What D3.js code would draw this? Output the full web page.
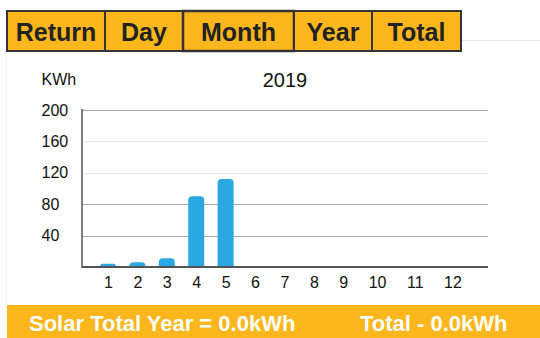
<!DOCTYPE html>
<html>
<head>
<meta charset="utf-8">
<script src="https://cdn.jsdelivr.net/npm/d3@7"></script>
<style>
  html, body { margin: 0; padding: 0; background: #fff; }
  svg { display: block; font-family: "Liberation Sans", Arial, Helvetica, sans-serif; }
</style>
</head>
<body>
<svg id="chart" width="540" height="338"></svg>
<script>
// Tab labels across the top
const tabs = ["Return", "Day", "Month", "Year", "Total"];
const activeTab = "Month";

// Monthly generation for the year
const title = "2019";
const unit = "KWh";
const months = ["1", "2", "3", "4", "5", "6", "7", "8", "9", "10", "11", "12"];
const energy = [4, 6, 11, 90, 112, 0, 0, 0, 0, 0, 0, 0];
const yTicks = [40, 80, 120, 160, 200];
const faintTicks = [120, 160];

// Footer summary
const footerLeft = "Solar Total Year = 0.0kWh";
const footerRight = "Total - 0.0kWh";

const orange = "#FDB61C";
const blue = "#2AA8E1";

const svg = d3.select("#chart");

// ---- tab bar ----
const tabEdges = [7, 105, 183, 294, 372, 461];
const tabTop = 11, tabBottom = 51;
svg.append("line")
  .attr("x1", 461).attr("x2", 540).attr("y1", 40.5).attr("y2", 40.5)
  .attr("stroke", "#e9e9e9").attr("stroke-width", 1);
svg.append("line")
  .attr("x1", 6.5).attr("x2", 6.5).attr("y1", 52).attr("y2", 305)
  .attr("stroke", "#f0f0f0").attr("stroke-width", 1);

const tabG = svg.append("g").selectAll("g").data(tabs).join("g");
tabG.append("rect")
  .attr("x", (d, i) => tabEdges[i])
  .attr("y", tabTop)
  .attr("width", (d, i) => tabEdges[i + 1] - tabEdges[i])
  .attr("height", tabBottom - tabTop)
  .attr("fill", orange)
  .attr("stroke", "#333")
  .attr("stroke-width", d => d === activeTab ? 2.5 : 2);
tabG.append("text")
  .attr("x", (d, i) => (tabEdges[i] + tabEdges[i + 1]) / 2)
  .attr("y", 41)
  .attr("text-anchor", "middle")
  .attr("font-size", 25)
  .attr("font-weight", "bold")
  .attr("fill", "#222")
  .text(d => d);

// ---- chart ----
const x0 = 82, x1 = 488;
const y = d3.scaleLinear().domain([0, 200]).range([267, 110]);

// month labels are laid out one after another with an even gap between them
const fontSize = 16;
const probe = svg.append("g").attr("font-size", fontSize);
const widths = months.map(m => {
  const t = probe.append("text").text(m);
  const w = t.node().getComputedTextLength();
  t.remove();
  return w;
});
probe.remove();
const gap = 20.5;
const centers = [];
months.forEach((m, i) => {
  centers.push(i === 0 ? x0 + 26 : centers[i - 1] + widths[i - 1] / 2 + gap + widths[i] / 2);
});
const x = d3.scaleOrdinal().domain(months).range(centers);
const barWidth = 16;

// grid lines
svg.append("g").selectAll("line").data(yTicks).join("line")
  .attr("x1", x0).attr("x2", x1)
  .attr("y1", d => Math.round(y(d)) + 0.5).attr("y2", d => Math.round(y(d)) + 0.5)
  .attr("stroke", d => faintTicks.includes(d) ? "#e4e4e4" : "#a8a8a8")
  .attr("stroke-width", 1.2);

// y axis labels (left aligned)
const yAxis = d3.axisLeft(y).tickValues(yTicks).tickSize(0).tickPadding(0);
const yg = svg.append("g").attr("transform", `translate(${x0},0)`).call(yAxis);
yg.select(".domain").remove();
yg.selectAll("text")
  .attr("x", -40.5)
  .attr("text-anchor", "start")
  .attr("font-size", fontSize)
  .attr("font-family", "Liberation Sans, Arial, sans-serif")
  .attr("fill", "#111");

// bars with rounded tops
const r = 4;
function barPath(d, i) {
  const cx = x(months[i]);
  const xl = cx - barWidth / 2, xr = cx + barWidth / 2;
  const yb = y(0), yt = y(d);
  const rr = Math.min(r, (yb - yt));
  return `M${xl},${yb}V${yt + rr}Q${xl},${yt} ${xl + rr},${yt}H${xr - rr}Q${xr},${yt} ${xr},${yt + rr}V${yb}Z`;
}
svg.append("g").selectAll("path").data(energy).join("path")
  .filter(d => d > 0)
  .attr("d", barPath)
  .attr("fill", blue);

// axis lines
svg.append("line")
  .attr("x1", x0).attr("x2", x0).attr("y1", y(200) - 1).attr("y2", y(0) + 1)
  .attr("stroke", "#555").attr("stroke-width", 1.5);
svg.append("line")
  .attr("x1", x0).attr("x2", x1).attr("y1", y(0)).attr("y2", y(0))
  .attr("stroke", "#555").attr("stroke-width", 2);

// x axis labels
const xAxis = d3.axisBottom(x).tickSize(0).tickPadding(0);
const xg = svg.append("g").attr("transform", `translate(0,${y(0)})`).call(xAxis);
xg.select(".domain").remove();
xg.selectAll("text")
  .attr("y", 21)
  .attr("dy", 0)
  .attr("font-size", fontSize)
  .attr("font-family", "Liberation Sans, Arial, sans-serif")
  .attr("fill", "#111");

// unit and title
svg.append("text")
  .attr("x", 41.5).attr("y", 85)
  .attr("font-size", 16).attr("fill", "#111")
  .text(unit);
svg.append("text")
  .attr("x", (x0 + x1) / 2).attr("y", 87)
  .attr("text-anchor", "middle")
  .attr("font-size", 20).attr("fill", "#111")
  .text(title);

// ---- footer ----
svg.append("rect")
  .attr("x", 7).attr("y", 305).attr("width", 533).attr("height", 33)
  .attr("fill", orange);
svg.append("text")
  .attr("x", 29).attr("y", 331)
  .attr("font-size", 22).attr("font-weight", "bold").attr("fill", "#fff")
  .text(footerLeft);
svg.append("text")
  .attr("x", 360).attr("y", 331)
  .attr("font-size", 22).attr("font-weight", "bold").attr("fill", "#fff")
  .text(footerRight);
</script>
</body>
</html>
